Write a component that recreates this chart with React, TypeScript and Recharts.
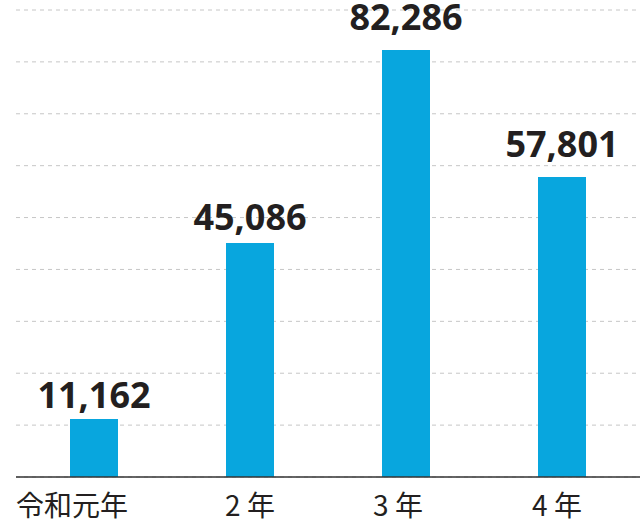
import { BarChart, Bar, XAxis, YAxis, CartesianGrid, LabelList } from "recharts";

const years = ["令和元年", "2 年", "3 年", "4 年"];
const counts = [11162, 45086, 82286, 57801];
const yTicks = [0, 10000, 20000, 30000, 40000, 50000, 60000, 70000, 80000, 90000];

const data = years.map((y, i) => ({ year: y, count: counts[i] }));

const ink = "#231f20";
const blue = "#08a6de";

// nudges (first year label sits flush left of its band)
const tickNudge = [0, 0, -8, -5];
const labelGap = [11, 13, 20, 20];

function YearTick(props: any) {
  const { x, y, payload, index } = props;
  const first = index === 0;
  return (
    <text
      x={first ? x - 78 : x + tickNudge[index]}
      y={y + 31}
      textAnchor={first ? "start" : "middle"}
      fontSize={28}
      fill={ink}
      fontFamily="'Noto Sans CJK JP', sans-serif"
    >
      {payload.value}
    </text>
  );
}

function ValueLabel(props: any) {
  const { x, y, width, value, index } = props;
  return (
    <text
      x={x + width / 2}
      y={y - labelGap[index]}
      textAnchor="middle"
      fontFamily="'Noto Sans', sans-serif"
      fontWeight={700}
      fontSize={36}
      fill={ink}
    >
      {Number(value).toLocaleString("en-US")}
    </text>
  );
}

export default function App() {
  return (
    <div style={{ position: "absolute", left: 0, top: 0, background: "#fff" }}>
      <BarChart width={641} height={520} data={data} margin={{ top: 10, right: 1, left: 16, bottom: 0 }}>
        <CartesianGrid vertical={false} stroke="#c6c6c6" strokeDasharray="4 4" />
        <YAxis hide domain={[0, 90000]} ticks={yTicks} />
        <XAxis
          dataKey="year"
          height={43}
          axisLine={{ stroke: "#333", strokeWidth: 1.5 }}
          tickLine={false}
          tick={<YearTick />}
          interval={0}
        />
        <Bar dataKey="count" fill={blue} barSize={48} isAnimationActive={false}>
          <LabelList dataKey="count" content={<ValueLabel />} />
        </Bar>
      </BarChart>
    </div>
  );
}
